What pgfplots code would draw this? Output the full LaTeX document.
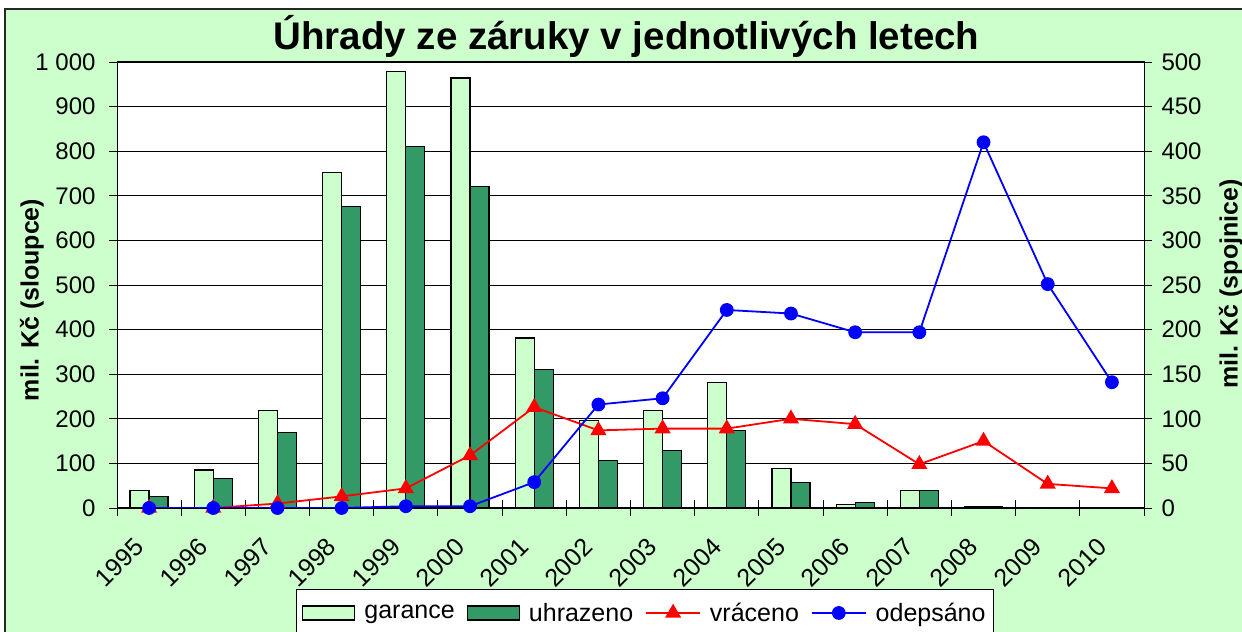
\documentclass[border=0pt]{standalone}
\usepackage{fontspec}
\setmainfont{Liberation Sans}
\usepackage{pgfplots}
\pgfplotsset{compat=1.18}
\definecolor{bg}{HTML}{CCFFCC}
\definecolor{garc}{HTML}{CCFFCC}
\definecolor{uhrc}{HTML}{339966}
\begin{document}
\begin{tikzpicture}[x=1bp,y=1bp]
\path[use as bounding box] (0,0) rectangle (1242,632);
\clip (0,0) rectangle (1242,632);
\fill[white] (0,0) rectangle (1242,632);
\filldraw[fill=bg, draw=black!85, line width=2bp] (5,-20) rectangle (1260,623);
\node[anchor=base, font=\fontsize{38.5bp}{46bp}\selectfont\bfseries] at (626.5,582) {Úhrady ze záruky v jednotlivých letech};
\node[rotate=90, font=\fontsize{25bp}{30bp}\selectfont\bfseries] at (32,332) {mil. Kč (sloupce)};
\node[rotate=90, font=\fontsize{25bp}{30bp}\selectfont\bfseries] at (1231,348) {mil. Kč (spojnice)};
\begin{axis}[
  at={(117bp,124bp)}, anchor=south west, width=1027bp, height=446bp, scale only axis,
  xmin=-0.5, xmax=15.5, ymin=0, ymax=1000,
  ybar=0pt, bar width=19bp,
  axis background/.style={fill=white},
  xtick={-0.5,0.5,...,15.5},
  x tick label as interval,
  xticklabels={1995,1996,1997,1998,1999,2000,2001,2002,2003,2004,2005,2006,2007,2008,2009,2010},
  xtick pos=bottom, ytick pos=left,
  major tick length=16bp, tick align=center,
  ytick={0,100,...,1000},
  yticklabels={0,100,200,300,400,500,600,700,800,900,1 000},
  ymajorgrids, major grid style={black, line width=0.9bp},
  axis line style={black, line width=1bp},
  tick style={black, line width=0.9bp},
  yticklabel style={anchor=east, xshift=-10bp, font=\fontsize{24bp}{28bp}\selectfont},
  xticklabel style={rotate=45, anchor=north east, xshift=-22.5bp, yshift=0.5bp, font=\fontsize{25bp}{30bp}\selectfont},
]
\addplot[draw=black, fill=garc, line width=1.2bp] coordinates {
(0,40) (1,85) (2,219) (3,753) (4,978) (5,964) (6,381) (7,196) (8,219) (9,281) (10,89) (11,8) (12,40) (13,3) (14,0) (15,0)};
\addplot[draw=black, fill=uhrc, line width=1.2bp] coordinates {
(0,25) (1,67) (2,170) (3,676) (4,811) (5,721) (6,310) (7,106) (8,129) (9,174) (10,58) (11,13) (12,40) (13,3) (14,0) (15,0)};
\end{axis}
\begin{axis}[
  at={(117bp,124bp)}, anchor=south west, width=1027bp, height=446bp, scale only axis,
  xmin=-0.5, xmax=15.5, ymin=0, ymax=500,
  hide x axis, axis y line*=right,
  ytick={0,50,...,500},
  yticklabels={0,50,100,150,200,250,300,350,400,450,500},
  major tick length=16bp, tick align=center,
  axis line style={black, line width=1bp},
  tick style={black, line width=0.9bp},
  yticklabel style={anchor=west, xshift=6bp, font=\fontsize{24bp}{28bp}\selectfont},
  legend columns=4,
  legend style={at={(0.514,-0.2354)}, anchor=center, draw=black, line width=1bp, fill=white,
    font=\fontsize{25bp}{30bp}\selectfont, inner xsep=6bp, inner ysep=12bp,
    /tikz/every odd column/.append style={column sep=7bp},
    /tikz/every even column/.append style={column sep=10bp}},
  legend image code/.code={\draw[mark repeat=2,mark phase=2,#1] plot coordinates {(0bp,0bp) (27bp,0bp) (54bp,0bp)};},
]
\addlegendimage{legend image code/.code={\draw[draw=black,fill=garc,line width=1.2bp] (0bp,-7bp) rectangle (52bp,7bp);}}
\addlegendentry{garance}
\addlegendimage{legend image code/.code={\draw[draw=black,fill=uhrc,line width=1.2bp] (0bp,-7bp) rectangle (52bp,7bp);}}
\addlegendentry{uhrazeno}
\addplot[red, line width=1.8bp, mark=triangle*, mark size=7.5bp, mark options={solid}] coordinates {
(0,0) (1,0) (2,5) (3,13) (4,22) (5,59) (6,113) (7,87) (8,89) (9,89) (10,100) (11,94) (12,49) (13,75) (14,27) (15,22)};
\addlegendentry{vráceno}
\addplot[blue, line width=1.8bp, mark=*, mark size=6bp, mark options={solid}] coordinates {
(0,0) (1,0) (2,0) (3,0) (4,2) (5,2) (6,29) (7,116) (8,123) (9,222) (10,218) (11,197) (12,197) (13,410) (14,251) (15,141)};
\addlegendentry{odepsáno}
\end{axis}
\end{tikzpicture}
\end{document}
